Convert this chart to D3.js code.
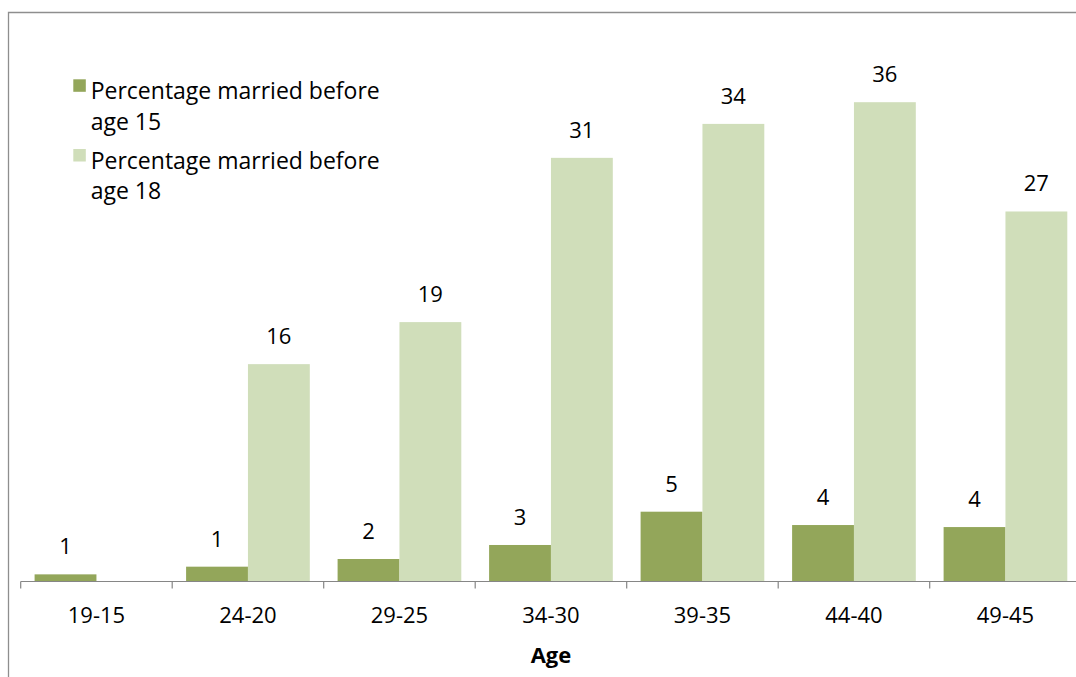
<!DOCTYPE html>
<html>
<head>
<meta charset="utf-8">
<script src="https://cdn.jsdelivr.net/npm/d3@7"></script>
<style>
  html, body { margin: 0; padding: 0; background: #fff; }
  svg { display: block; font-family: "Open Sans", sans-serif; }
</style>
</head>
<body>
<svg id="chart" width="1076" height="677"></svg>
<script>
// ---- data ----
const categories = ["19-15", "24-20", "29-25", "34-30", "39-35", "44-40", "49-45"];
const seriesNames = ["Percentage married before age 15", "Percentage married before age 18"];
const legendLines = [["Percentage married before", "age 15"], ["Percentage married before", "age 18"]];
const before15 = [0.53, 1.10, 1.67, 2.71, 5.18, 4.19, 4.04];
const before18 = [null, 16.13, 19.25, 31.44, 33.96, 35.57, 27.46];
const axisTitle = "Age";

// ---- layout ----
const svg = d3.select("#chart");
const colors = ["#93a65a", "#d0deba"];
const baseY = 581.5;
const x0 = 20.7, step = 151.5;

const x = d3.scaleBand()
  .domain(categories)
  .range([x0, x0 + step * categories.length])
  .paddingInner(0.1835)
  .paddingOuter(0.0917);

const xs = d3.scaleBand().domain([0, 1]).range([0, x.bandwidth()]).padding(0);
const y = d3.scaleLinear().domain([0, 40]).range([baseY, 42.5]);

// chart border (top-left frame, cropped on right/bottom)
svg.append("path")
  .attr("d", "M8.5,677 L8.5,12.5 L1076,12.5")
  .attr("fill", "none")
  .attr("stroke", "#8e8e8e")
  .attr("stroke-width", 1.3);

const series = [before15, before18];
const rows = categories.map((c, i) => ({ c, vals: series.map(s => s[i]) }));

const g = svg.append("g").selectAll("g").data(rows).join("g")
  .attr("transform", d => `translate(${x(d.c)},0)`);

g.selectAll("rect")
  .data(d => d.vals.map((v, k) => ({ v, k })).filter(e => e.v != null))
  .join("rect")
  .attr("x", e => xs(e.k))
  .attr("width", xs.bandwidth())
  .attr("y", e => y(e.v))
  .attr("height", e => baseY - y(e.v))
  .attr("fill", e => colors[e.k]);

g.selectAll("text")
  .data(d => d.vals.map((v, k) => ({ v, k })).filter(e => e.v != null))
  .join("text")
  .attr("x", e => xs(e.k) + xs.bandwidth() / 2)
  .attr("y", e => y(e.v) - 20)
  .attr("text-anchor", "middle")
  .attr("font-size", 22)
  .attr("fill", "#000")
  .text(e => d3.format(".0f")(e.v));

// x axis
const axisG = svg.append("g").attr("transform", `translate(0,${baseY})`);
axisG.call(d3.axisBottom(x).tickSize(0).tickPadding(0))
  .call(a => a.select(".domain").remove());
axisG.selectAll(".tick text")
  .attr("y", 41.8)
  .attr("dy", 0)
  .attr("font-size", 22)
  .attr("font-family", "Open Sans, sans-serif")
  .attr("fill", "#000");

axisG.append("line")
  .attr("x1", x0).attr("x2", x0 + step * categories.length)
  .attr("y1", 0).attr("y2", 0)
  .attr("stroke", "#868686").attr("stroke-width", 1.2);

axisG.selectAll(".bound")
  .data(d3.range(categories.length + 1))
  .join("line")
  .attr("class", "bound")
  .attr("x1", i => x0 + i * step).attr("x2", i => x0 + i * step)
  .attr("y1", 0).attr("y2", 7)
  .attr("stroke", "#868686").attr("stroke-width", 1.2);

svg.append("text")
  .attr("x", x0 + step * categories.length / 2)
  .attr("y", 663.3)
  .attr("text-anchor", "middle")
  .attr("font-size", 22)
  .attr("font-weight", "bold")
  .attr("fill", "#000")
  .text(axisTitle);

// legend
const legend = svg.append("g");
const legendTops = [79.3, 149];
const legendBase = [99, 168.5];
seriesNames.forEach((name, k) => {
  legend.append("rect")
    .attr("x", 73.3).attr("y", legendTops[k])
    .attr("width", 12.5).attr("height", 12.5)
    .attr("fill", colors[k]);
  const t = legend.append("text")
    .attr("x", 90.7).attr("y", legendBase[k])
    .attr("font-size", 23).attr("fill", "#000");
  legendLines[k].forEach((ln, j) => {
    t.append("tspan").attr("x", 90.7).attr("dy", j === 0 ? 0 : 30.7).text(ln);
  });
});
</script>
</body>
</html>
